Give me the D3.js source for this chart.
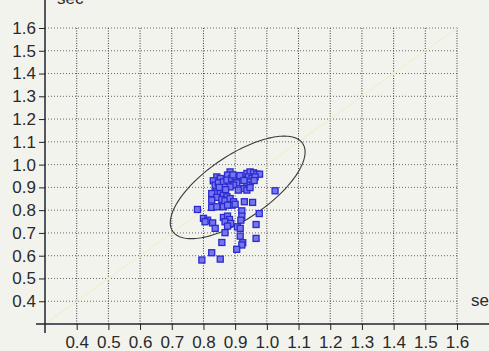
<!DOCTYPE html>
<html>
  <head>
    <style>
    body { margin: 0; background: #f3f3ee; }
    svg { display: block; font-family: 'Liberation Sans', Arial, sans-serif; }
    .grid-v line { stroke: #3a3a3a; stroke-dasharray: 1,1.5; }
    .grid-h line { stroke: #6a6a6a; stroke-dasharray: 1,2; }
    .tick text { fill: #2a2a2a; font-size: 17px; }
    .pt { fill: #7676ec; stroke: #2a2ad0; stroke-width: 1.3; }
    </style>
  </head>
  <body>

    <svg width="489" height="351"></svg>

    <script src="https://cdn.jsdelivr.net/npm/d3@7/dist/d3.min.js"></script>
    <script>

      // tick values shared by both axes
      const ticks = [0.4, 0.5, 0.6, 0.7, 0.8, 0.9, 1.0, 1.1, 1.2, 1.3, 1.4, 1.5, 1.6]

      // measured pairs (x sec, y sec)
      const xs = [0.884, 0.876, 0.842, 0.853, 0.831, 0.837, 0.847, 0.863, 0.874, 0.889,
                  0.900, 0.937, 0.947, 0.958, 0.968, 0.977, 0.942, 0.953, 0.963, 0.947,
                  0.937, 0.926, 0.916, 0.905, 0.895, 0.884, 0.910, 0.937, 0.947, 1.026,
                  0.837, 0.826, 0.853, 0.863, 0.874, 0.842, 0.858, 0.868, 0.884, 0.895,
                  0.889, 0.900, 0.826, 0.826, 0.842, 0.863, 0.876, 0.929, 0.955, 0.781,
                  0.800, 0.813, 0.829, 0.805, 0.863, 0.876, 0.882, 0.868, 0.886, 0.921,
                  0.921, 0.918, 0.976, 0.907, 0.916, 0.876, 0.868, 0.837, 0.966, 0.916,
                  0.966, 0.924, 0.921, 0.858, 0.905, 0.826, 0.853, 0.795,
                  0.893, 0.915, 0.928, 0.960, 0.870, 0.850]
      const ys = [0.968, 0.954, 0.946, 0.939, 0.929, 0.910, 0.920, 0.924, 0.932, 0.939,
                  0.946, 0.961, 0.968, 0.964, 0.958, 0.958, 0.946, 0.939, 0.946, 0.924,
                  0.910, 0.895, 0.932, 0.920, 0.910, 0.902, 0.888, 0.888, 0.899, 0.885,
                  0.880, 0.873, 0.873, 0.866, 0.859, 0.856, 0.847, 0.841, 0.851, 0.837,
                  0.822, 0.826, 0.844, 0.812, 0.815, 0.815, 0.822, 0.837, 0.834, 0.803,
                  0.764, 0.756, 0.744, 0.749, 0.768, 0.774, 0.759, 0.749, 0.742, 0.797,
                  0.774, 0.756, 0.785, 0.727, 0.720, 0.730, 0.701, 0.720, 0.737, 0.686,
                  0.676, 0.657, 0.647, 0.658, 0.628, 0.613, 0.585, 0.581,
                  0.955, 0.952, 0.930, 0.930, 0.890, 0.900]

      // confidence ellipse: centre and the two half-axis vectors, in data units
      const ellCenter = [0.908, 0.900]
      const ellMajor = [0.205, 0.193]
      const ellMinor = [0.0565, -0.116]

      const svg = d3.select('svg')

      const x = d3.scaleLinear().domain([0.3, 1.6]).range([45, 457])
      const y = d3.scaleLinear().domain([0.3, 1.6]).range([324, 28])

      // grid
      svg.append('g').attr('class', 'grid-h')
        .selectAll('line').data(ticks).enter().append('line')
          .attr('x1', x(0.3)).attr('x2', x(1.6))
          .attr('y1', d => y(d)).attr('y2', d => y(d))

      svg.append('g').attr('class', 'grid-v')
        .selectAll('line').data(ticks).enter().append('line')
          .attr('y1', y(0.3)).attr('y2', y(1.6))
          .attr('x1', d => x(d)).attr('x2', d => x(d))

      // faint y = x reference
      svg.append('line')
          .attr('x1', x(0.3)).attr('y1', y(0.3))
          .attr('x2', x(1.6)).attr('y2', y(1.6))
          .attr('stroke', '#f0edc4').attr('stroke-width', 1)

      // axes
      svg.append('g')
          .attr('transform', 'translate(' + x(0.3) + ',0)')
          .call(d3.axisLeft(y).tickValues(ticks).tickSize(6).tickPadding(3).tickFormat(d3.format('.1f')))
      const xAxis = svg.append('g')
          .attr('transform', 'translate(0,' + y(0.3) + ')')
          .call(d3.axisBottom(x).tickValues(ticks).tickSize(6).tickPadding(5).tickFormat(d3.format('.1f')))
      svg.selectAll('.domain').remove()
      svg.selectAll('.tick line').attr('stroke', '#222')
      xAxis.selectAll('.tick text').attr('dy', '0.76em')

      svg.append('line')
          .attr('x1', x(0.3)).attr('x2', x(0.3)).attr('y1', 0).attr('y2', 333)
          .attr('stroke', '#1f2430').attr('stroke-width', 1.5)
      svg.append('line')
          .attr('x1', 36).attr('x2', 489).attr('y1', y(0.3)).attr('y2', y(0.3))
          .attr('stroke', '#1f2430').attr('stroke-width', 1.5)

      // axis titles (cut by the edges)
      svg.append('text').attr('x', 57).attr('y', 4)
          .attr('font-size', 17).attr('fill', '#2a2a2a').text('sec')
      svg.append('text').attr('x', 471).attr('y', 306)
          .attr('font-size', 17).attr('fill', '#2a2a2a').text('sec')

      // ellipse
      const ell = d3.range(0, 2 * Math.PI + 0.01, Math.PI / 90).map(t => [
        ellCenter[0] + ellMajor[0] * Math.cos(t) + ellMinor[0] * Math.sin(t),
        ellCenter[1] + ellMajor[1] * Math.cos(t) + ellMinor[1] * Math.sin(t)
      ])
      svg.append('path')
          .datum(ell)
          .attr('d', d3.line().x(d => x(d[0])).y(d => y(d[1])))
          .attr('fill', 'none').attr('stroke', '#3a3a3a').attr('stroke-width', 1.1)

      // points
      const s = 6
      svg.append('g')
        .selectAll('rect').data(d3.range(xs.length)).enter().append('rect')
          .attr('class', 'pt')
          .attr('x', i => x(xs[i]) - s / 2)
          .attr('y', i => y(ys[i]) - s / 2)
          .attr('width', s).attr('height', s)

    </script>
  </body>
</html>
